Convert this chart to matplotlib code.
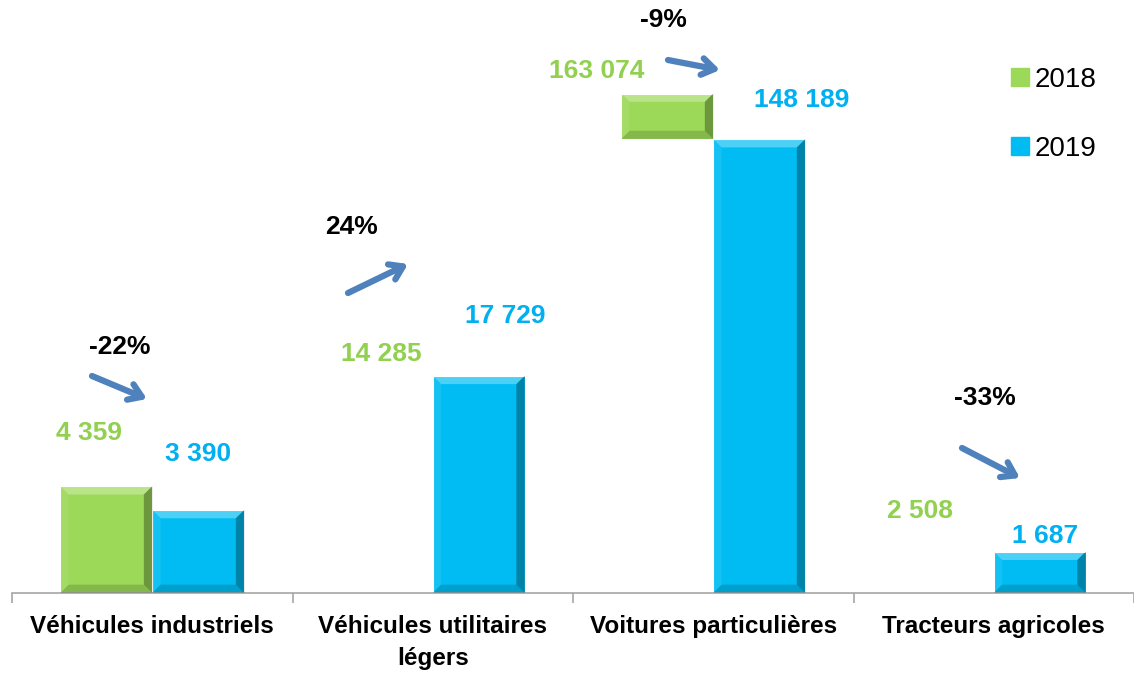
import matplotlib.pyplot as plt
from matplotlib.patches import Polygon
from matplotlib.lines import Line2D

categories = ["Véhicules industriels", "Véhicules utilitaires\nlégers",
              "Voitures particulières", "Tracteurs agricoles"]
values_2018 = [4359, 14285, 163074, 2508]
values_2019 = [3390, 17729, 148189, 1687]
# the original chart squeezes the big categories: each one is drawn at its own scale
scale = [1, 2, 8, 1]
shown_2018 = [True, False, True, False]

GREEN = "#9CD958"
BLUE = "#00BCF2"
GREEN_TXT = "#92D050"
BLUE_TXT = "#00B0F0"
ARROW = "#4F81BD"
FONT = "Liberation Sans"

plt.rcParams["font.family"] = [FONT, "DejaVu Sans"]

fig = plt.figure(figsize=(11.34, 6.8), dpi=100)
ax = fig.add_axes([12 / 1134, 87 / 680, 1122 / 1134, 593 / 680])
ax.set_xlim(-0.5, 3.5)
ax.set_ylim(0, 24200)

w = 0.328
x = list(range(len(categories)))
h19 = [v / s for v, s in zip(values_2019, scale)]
h18 = [v / s for v, s in zip(values_2018, scale)]


def bevel(patch):
    x0, y0 = patch.get_x(), patch.get_y()
    x1, y1 = x0 + patch.get_width(), y0 + patch.get_height()
    dx, dy = 0.03, 340
    dy = min(dy, (y1 - y0) / 2)
    faces = [
        ([(x0, y1), (x1, y1), (x1 - dx, y1 - dy), (x0 + dx, y1 - dy)], "white", 0.3),
        ([(x0, y0), (x0, y1), (x0 + dx, y1 - dy), (x0 + dx, y0 + dy)], "white", 0.08),
        ([(x1, y0), (x1, y1), (x1 - dx, y1 - dy), (x1 - dx, y0 + dy)], "black", 0.3),
        ([(x0, y0), (x1, y0), (x1 - dx, y0 + dy), (x0 + dx, y0 + dy)], "black", 0.15),
    ]
    for pts, c, a in faces:
        ax.add_patch(Polygon(pts, closed=True, facecolor=c, alpha=a,
                             edgecolor="none", zorder=3))


bars19 = ax.bar([i + w / 2 for i in x], h19, width=w, color=BLUE,
                edgecolor="white", linewidth=0.8, zorder=2, label="2019")
for b in bars19:
    bevel(b)

for i in x:
    if not shown_2018[i]:
        continue
    # where the 2018 bar is taller, only the part above the 2019 bar shows
    bottom = h19[i] if h18[i] > h19[i] and i == 2 else 0
    b = ax.bar(i - w / 2, h18[i] - bottom, bottom=bottom, width=w, color=GREEN,
               edgecolor="white", linewidth=0.8, zorder=2)[0]
    bevel(b)


def fmt(v):
    return "{:,}".format(v).replace(",", " ")


# label placement (x shift in axis units, y in points above bar top)
lab18 = [(-0.06, 38), (-0.02, 46), (-0.25, 16), (-0.10, 15)]
lab19 = [(0.0, 40), (0.095, 43), (0.15, 28), (0.02, 11)]
for i in x:
    dx, dy = lab18[i]
    ax.annotate(fmt(values_2018[i]), (i - w / 2 + dx, h18[i]), xytext=(0, dy),
                textcoords="offset points", ha="center", va="center",
                fontsize=19, fontweight="bold", color=GREEN_TXT, zorder=5)
    dx, dy = lab19[i]
    ax.annotate(fmt(values_2019[i]), (i + w / 2 + dx, h19[i]), xytext=(0, dy),
                textcoords="offset points", ha="center", va="center",
                fontsize=19, fontweight="bold", color=BLUE_TXT, zorder=5)

# percentage change with arrows (pixel layout)
pct_pos = [(120, 347), (352, 227), (663, 20), (985, 398)]
arrow_pos = [((92, 376), (147, 399)), ((348, 293), (408, 264)),
             ((668, 60), (720, 70)), ((962, 448), (1020, 478))]
for i in x:
    pct = round((values_2019[i] - values_2018[i]) / values_2018[i] * 100)
    px, py = pct_pos[i]
    fig.text(px / 1134, 1 - py / 680, f"{pct}%", ha="center", va="center",
             fontsize=19, fontweight="bold", color="black")
    (ax0, ay0), (ax1, ay1) = arrow_pos[i]
    ax.annotate("", xy=(ax1 / 1134, 1 - ay1 / 680), xytext=(ax0 / 1134, 1 - ay0 / 680),
                xycoords="figure fraction", textcoords="figure fraction",
                arrowprops=dict(arrowstyle="->,head_length=0.9,head_width=0.6",
                                color=ARROW, lw=4.5, shrinkA=0, shrinkB=0))

for s in ["top", "right", "left"]:
    ax.spines[s].set_visible(False)
ax.spines["bottom"].set_color("#A6A6A6")
ax.spines["bottom"].set_linewidth(1.2)
ax.set_yticks([])
ax.set_xticks([-0.5, 0.5, 1.5, 2.5, 3.5])
ax.set_xticklabels([])
ax.tick_params(axis="x", which="major", length=7, width=1.2, color="#A6A6A6")
ax.set_xticks(x, minor=True)
ax.set_xticklabels(categories, minor=True, fontsize=17.5, fontweight="bold",
                   linespacing=1.5, va="top")
ax.tick_params(axis="x", which="minor", length=0, pad=16)
ax.set_facecolor("none")

handles = [Line2D([], [], marker="s", linestyle="none", markersize=13,
                  markerfacecolor=c, markeredgecolor=c) for c in (GREEN, BLUE)]
fig.legend(handles, ["2018", "2019"], loc="upper left",
           bbox_to_anchor=(985 / 1134, 1 - 42 / 680), frameon=False,
           fontsize=20, labelspacing=1.55, handlelength=0.7, handletextpad=0.2)

fig.savefig("out.png", dpi=100)
